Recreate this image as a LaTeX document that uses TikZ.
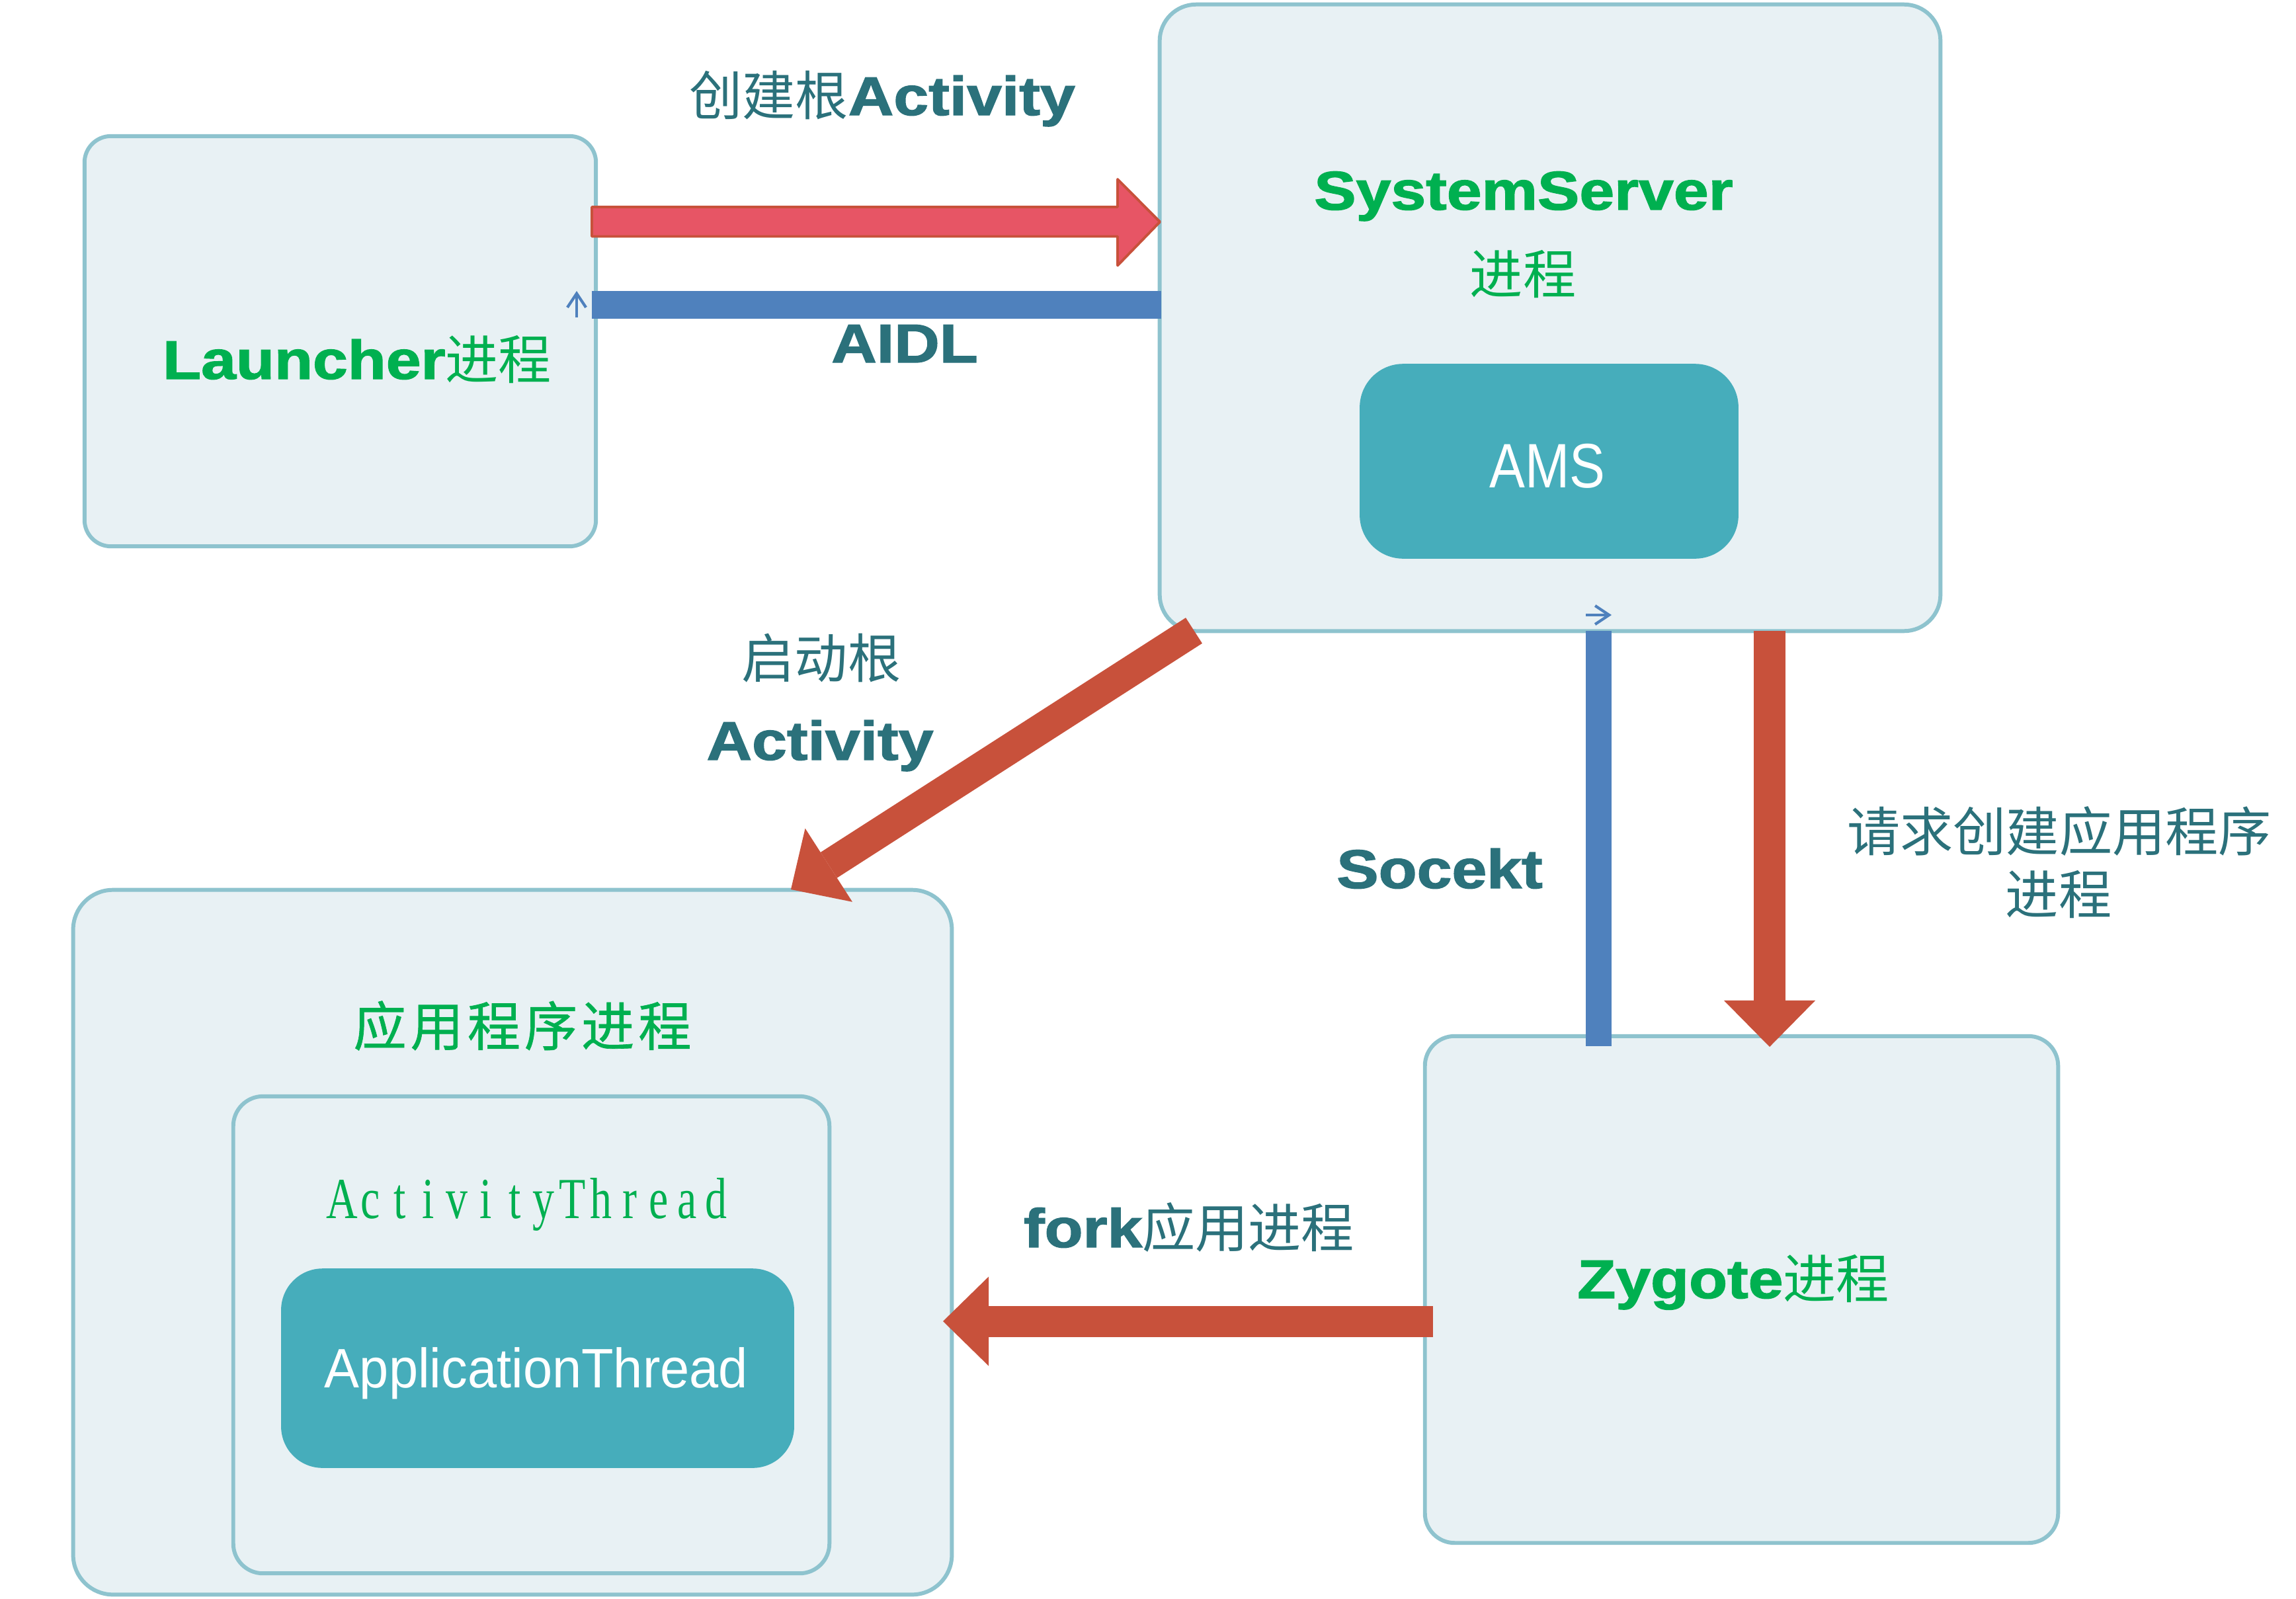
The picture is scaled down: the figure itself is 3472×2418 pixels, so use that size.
\documentclass[tikz,border=0pt]{standalone}
\usepackage{fontspec}
\usepackage{graphicx}
\setmainfont{Liberation Sans}
\newfontfamily\zhfam{Noto Sans CJK SC}
\newfontfamily\zhbfam{Noto Sans CJK SC}[FakeBold=0.8]
\newfontfamily\heavyfam{Liberation Sans Bold}[FakeBold=1.6]
\newfontfamily\serfam{Liberation Serif}
\usetikzlibrary{arrows.meta}
\definecolor{boxfill}{RGB}{232,241,244}
\definecolor{boxline}{RGB}{142,195,206}
\definecolor{amsfill}{RGB}{70,173,187}
\definecolor{txtgreen}{RGB}{0,176,80}
\definecolor{txtteal}{RGB}{43,113,123}
\definecolor{arrred}{RGB}{200,81,59}
\definecolor{arrpink}{RGB}{231,85,101}
\definecolor{arrblue}{RGB}{79,129,189}
\newcommand\lb[1]{{\heavyfam\fontsize{27}{32}\selectfont\scalebox{1}[0.87]{#1}}}
\newcommand\zh{\zhfam\fontsize{22.8}{27}\selectfont}
\newcommand\fixch[1]{\makebox[16.5pt][c]{#1}}
\begin{document}
\begin{tikzpicture}[x=0.01cm,y=-0.01cm,
  procbox/.style={draw=boxline, line width=1.7pt, fill=boxfill, inner sep=0pt},
  solidbox/.style={fill=amsfill, draw=amsfill, inner sep=0pt},
  lbl/.style={inner sep=0pt, anchor=base},
  ctr/.style={inner sep=0pt},
  fatred/.style={draw=arrred, line width=0.47cm, -{Triangle[length=0.69cm, width=1.35cm, line width=0pt]}},
  bluebar/.style={draw=arrblue, line width=0.41cm},
  thinblue/.style={draw=arrblue, line width=1.2pt, -{Straight Barb[length=6pt, width=8pt, line width=1.2pt]}}]
\useasboundingbox (0,0) rectangle (3472,2418);
\fill[white] (0,0) rectangle (3472,2418);

% boxes
\node[procbox, rounded corners=0.4cm, minimum width=7.73cm, minimum height=6.2cm] (launcher) at (514.5,516) {};
\node[procbox, rounded corners=0.55cm, minimum width=11.8cm, minimum height=9.47cm] (ss) at (2344,480.5) {};
\node[solidbox, rounded corners=0.65cm, minimum width=5.71cm, minimum height=2.93cm] (ams) at (2342.5,697.5) {};
\node[procbox, rounded corners=0.6cm, minimum width=13.28cm, minimum height=10.65cm] (app) at (775,1878.5) {};
\node[procbox, rounded corners=0.45cm, minimum width=9.01cm, minimum height=7.21cm] (at) at (803.5,2018.5) {};
\node[solidbox, rounded corners=0.62cm, minimum width=7.74cm, minimum height=3cm] (apt) at (813,2069) {};
\node[procbox, rounded corners=0.45cm, minimum width=9.57cm, minimum height=7.66cm] (zyg) at (2633.5,1950) {};

% connector end points
\coordinate (pinkA) at (895,335.5);
\coordinate (pinkB) at (1754,335.5);
\coordinate (aidlA) at (1756,461);
\coordinate (aidlB) at (895,461);
\coordinate (diagA) at (1805.5,953.5);
\coordinate (diagB) at (1196,1345);
\coordinate (sockA) at (2417,1582);
\coordinate (sockB) at (2417,954);
\coordinate (reqA) at (2676,954);
\coordinate (reqB) at (2676,1583);
\coordinate (forkA) at (2167,1998);
\coordinate (forkB) at (1426,1998);
\coordinate (sa0) at (872,480);
\coordinate (sa1) at (872,440);
\coordinate (sb0) at (2398,930);
\coordinate (sb1) at (2437,930);

% pink block arrow Launcher -> SystemServer
\filldraw[fill=arrpink, draw=arrred, line width=1.1pt, line join=round]
  (pinkA) ++(0,-22.5) -- ++(795,0) -- ++(0,-42) -- (pinkB) -- ++(-64,66) -- ++(0,-44) -- ++(-795,0) -- cycle;
% blue bars
\draw[bluebar] (aidlA) -- (aidlB);
\draw[bluebar, line width=0.39cm] (sockA) -- (sockB);
% red arrows
\draw[fatred, line width=0.46cm, -{Triangle[length=0.68cm, width=1.32cm, line width=0pt]}] (diagA) -- (diagB);
\draw[fatred, line width=0.48cm, -{Triangle[length=0.70cm, width=1.38cm, line width=0pt]}] (reqA) -- (reqB);
\draw[fatred] (forkA) -- (forkB);
% small arrows
\draw[thinblue] (sa0) -- (sa1);
\draw[thinblue] (sb0) -- (sb1);

% texts
\node[lbl, text=txtteal] (tCreate) at (1334,174) {{\zh 创建根}\lb{Activity}};
\node[lbl, text=txtgreen] (tLauncher) at (540,573) {\lb{Launcher}{\zh 进程}};
\node[lbl, text=txtgreen] (tSS) at (2304,317) {\lb{SystemServer}};
\node[ctr, text=txtgreen] (tSS2) at (2303,415) {\zh 进程};
\node[lbl, text=white] (tAMS) at (2340,737) {\fontsize{27}{32}\selectfont\scalebox{0.85}[1]{AMS}};
\node[lbl, text=txtteal] (tAIDL) at (1368,548) {\lb{AIDL}};
\node[ctr, text=txtteal] (tStart) at (1242,995) {\zh 启动根};
\node[lbl, text=txtteal] (tStart2) at (1240,1149) {\lb{Activity}};
\node[lbl, text=txtteal] (tSock) at (2177,1343) {\lb{Socekt}};
\node[ctr, text=txtteal] (tReq) at (3114,1257) {\zh 请求创建应用程序};
\node[ctr, text=txtteal] (tReq2) at (3113,1352) {\zh 进程};
\node[lbl, text=txtteal] (tFork) at (1798,1886) {\lb{fork}{\zh 应用进程}};
\node[lbl, text=txtgreen] (tZyg) at (2621,1963) {\lb{Zygote}{\zh 进程}};
\node[ctr, text=txtgreen] (tApp) at (790,1551) {\zhbfam\fontsize{22.8}{27}\selectfont 应\hspace{1.7pt}用\hspace{1.7pt}程\hspace{1.7pt}序\hspace{1.7pt}进\hspace{1.7pt}程};
\node[lbl, text=txtgreen] (tAT) at (800,1842) {\serfam\fontsize{25}{30}\selectfont\scalebox{0.75}[1]{\fixch{A}\fixch{c}\fixch{t}\fixch{i}\fixch{v}\fixch{i}\fixch{t}\fixch{y}\fixch{T}\fixch{h}\fixch{r}\fixch{e}\fixch{a}\fixch{d}}};
\node[lbl, text=white] (tAPT) at (811,2098) {\fontsize{23.9}{28}\selectfont\scalebox{0.945}[1]{ApplicationThread}};
\end{tikzpicture}
\end{document}
